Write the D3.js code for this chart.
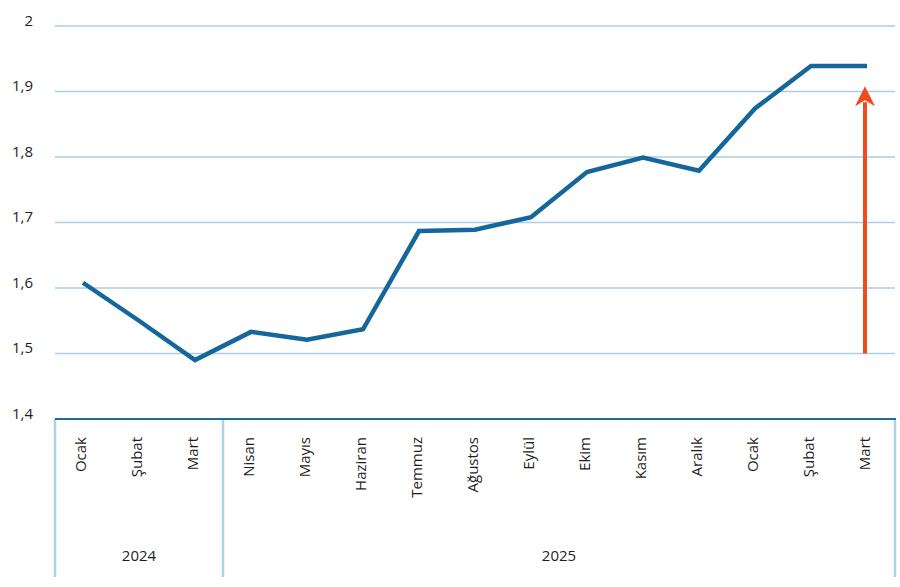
<!DOCTYPE html>
<html>
<head>
<meta charset="utf-8">
<script src="https://cdn.jsdelivr.net/npm/d3@7"></script>
<style>
  html, body { margin: 0; padding: 0; background: #fff; }
  svg { display: block; font-family: "Open Sans", "Noto Sans", sans-serif; }
</style>
</head>
<body>
<svg id="chart" width="900" height="587"></svg>
<script>
const months = ["Ocak","Şubat","Mart","Nisan","Mayıs","Haziran","Temmuz","Ağustos","Eylül","Ekim","Kasım","Aralık","Ocak","Şubat","Mart"];
const years = ["2024","2025"];
const yearOfMonth = [0,0,0,1,1,1,1,1,1,1,1,1,1,1,1];
const values = [1.608,1.55,1.49,1.533,1.521,1.537,1.687,1.689,1.708,1.777,1.799,1.779,1.874,1.939,1.939];
const yTicks = [1.4,1.5,1.6,1.7,1.8,1.9,2];
const arrowFrom = 1.5, arrowTo = 1.905;

(function(){
const svg = d3.select("#chart");
const mLeft = 55, mRight = 895, mTop = 26, mBottom = 419;
const ids = months.map((m,i)=>i);
const x = d3.scaleBand().domain(ids).range([mLeft, mRight]).padding(0);
const y = d3.scaleLinear().domain([1.4, 2]).range([mBottom, mTop]);
const fmt = d => String(d).replace(".", ",");
const txt = "#1e1e1e";

// y labels
const yAxis = d3.axisLeft(y).tickValues(yTicks).tickSize(0).tickFormat(fmt).tickPadding(22);
const gy = svg.append("g").attr("transform", `translate(${mLeft},0)`).call(yAxis);
gy.select(".domain").remove();
gy.selectAll("text").attr("font-size", 15).attr("fill", txt).attr("dy", "-0.05em")
  .attr("font-family", "'Open Sans', sans-serif").attr("font-weight", 400);

// gridlines
svg.append("g").selectAll("line").data(yTicks.filter(t => t > 1.4)).join("line")
  .attr("x1", mLeft).attr("x2", mRight)
  .attr("y1", d => y(d)).attr("y2", d => y(d))
  .attr("stroke", "#a8cde6").attr("stroke-width", 1.5);

// group separators
const sepX = [mLeft, x(3), mRight];
svg.append("g").selectAll("line").data(sepX).join("line")
  .attr("x1", d => d).attr("x2", d => d)
  .attr("y1", mBottom).attr("y2", 577)
  .attr("stroke", "#acd2e6").attr("stroke-width", 2.5);

// x axis line
svg.append("line").attr("x1", mLeft).attr("x2", mRight + 1).attr("y1", mBottom).attr("y2", mBottom)
  .attr("stroke", "#1f6aa5").attr("stroke-width", 2);

// month labels
svg.append("g").selectAll("text").data(ids).join("text")
  .attr("transform", d => `translate(${x(d) + x.bandwidth()/2 + 3},437) rotate(-90)`)
  .attr("text-anchor", "end")
  .attr("font-size", 15).attr("fill", txt).attr("font-weight", 400)
  .text(d => months[d]);

// year labels
svg.append("g").selectAll("text").data(years).join("text")
  .attr("x", (d,i) => (sepX[i] + sepX[i+1]) / 2)
  .attr("y", 561)
  .attr("text-anchor", "middle")
  .attr("font-size", 15).attr("fill", txt).attr("font-weight", 400)
  .text(d => d);

// line
const line = d3.line().x((d,i) => x(i) + x.bandwidth()/2).y(d => y(d));
svg.append("path").datum(values)
  .attr("d", line).attr("fill", "none")
  .attr("stroke", "#15679b").attr("stroke-width", 4.5)
  .attr("stroke-linejoin", "miter");

// arrow
const ax = x(14) + x.bandwidth()/2 - 2;
svg.append("line").attr("x1", ax).attr("x2", ax)
  .attr("y1", y(arrowFrom)).attr("y2", y(arrowTo) + 14)
  .attr("stroke", "#f04a1f").attr("stroke-width", 4);
const tipY = y(arrowTo) - 2;
svg.append("path")
  .attr("d", `M${ax},${tipY} L${ax+10},${tipY+20} L${ax},${tipY+14} L${ax-10},${tipY+20} Z`)
  .attr("fill", "#f04a1f");
})();
</script>
</body>
</html>
